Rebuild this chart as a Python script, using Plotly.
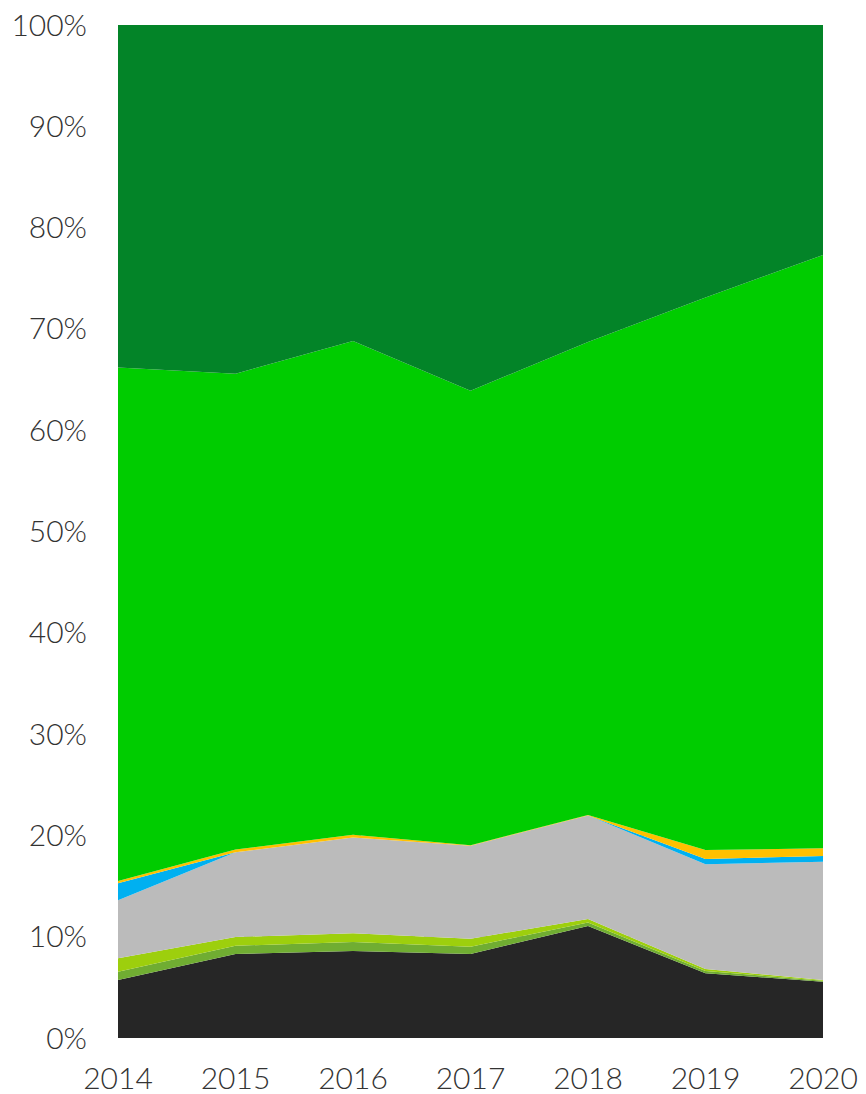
import plotly.graph_objects as go

years = ["2014", "2015", "2016", "2017", "2018", "2019", "2020"]

series_names = ["Black", "Medium green", "Yellow green", "Grey", "Blue", "Orange", "Bright green", "Dark green"]
black = [5.73, 8.29, 8.59, 8.29, 11.06, 6.38, 5.56]
medium_green = [0.82, 0.82, 0.89, 0.73, 0.35, 0.23, 0.10]
yellow_green = [1.32, 0.86, 0.85, 0.78, 0.35, 0.20, 0.07]
grey = [5.73, 8.36, 9.47, 9.18, 10.20, 10.33, 11.67]
blue = [1.67, 0.0, 0.0, 0.0, 0.0, 0.53, 0.57]
orange = [0.23, 0.27, 0.27, 0.05, 0.05, 0.89, 0.76]
bright_green = [50.69, 46.98, 48.73, 44.87, 46.70, 54.54, 58.57]
dark_green = [33.81, 34.42, 31.20, 36.10, 31.30, 26.90, 22.70]

colors = ["#262626", "#70ad32", "#9dcf0d", "#bbbbbb", "#00b0f0", "#ffc000", "#00cc00", "#038428"]
values = [black, medium_green, yellow_green, grey, blue, orange, bright_green, dark_green]

fig = go.Figure()
for name, vals, col in zip(series_names, values, colors):
    fig.add_trace(go.Scatter(
        x=years, y=vals, name=name, mode="none",
        stackgroup="one", groupnorm="percent",
        fillcolor=col, line=dict(width=0),
        hoverinfo="skip",
    ))

font = dict(family="Lato, 'Open Sans', sans-serif", size=30, color="#333333", weight=300)

fig.update_layout(
    width=850, height=1094,
    margin=dict(l=110, r=35, t=17, b=64),
    paper_bgcolor="white", plot_bgcolor="white",
    showlegend=False,
    font=font,
)
fig.update_xaxes(
    type="category", range=[0, 6], showgrid=False, zeroline=False,
    showline=False, ticks="", tickfont=font, ticklabelstandoff=20,
    automargin=False, ticklabeloverflow="allow",
)
fig.update_yaxes(
    range=[0, 100], dtick=10, ticksuffix="%",
    showgrid=True, gridcolor="#bbbbbb", griddash="dash", gridwidth=1,
    zeroline=False, showline=False, ticks="", tickfont=font,
    ticklabelstandoff=30, automargin=False, ticklabeloverflow="allow",
)

fig.write_html("out.html")
